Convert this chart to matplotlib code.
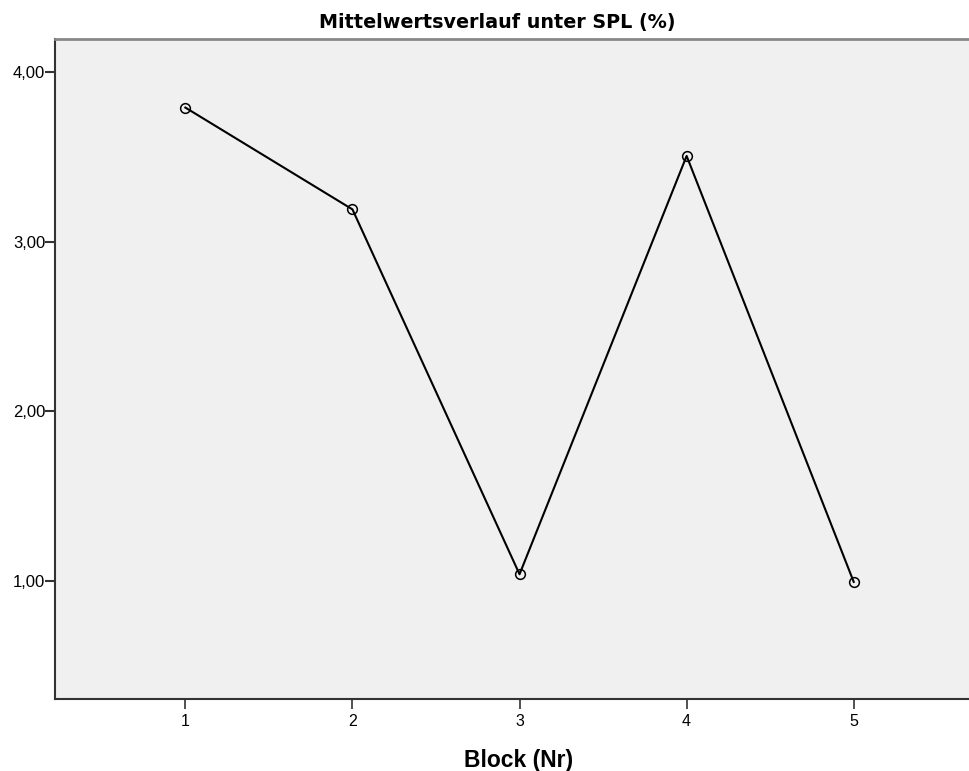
import numpy as np
import matplotlib.pyplot as plt

blocks = [1, 2, 3, 4, 5]
means = [3.79, 3.19, 1.04, 3.505, 0.995]
ytick_vals = [1.0, 2.0, 3.0, 4.0]
ytick_labels = ['1,00', '2,00', '3,00', '4,00']

plt.rcParams['font.family'] = ['Liberation Sans', 'DejaVu Sans']

fig = plt.figure(figsize=(9.69, 7.71), dpi=100)
ax = fig.add_axes([0.0568, 0.0934, 0.9432, 0.856])
ax.set_facecolor('#f0f0f0')

ax.plot(blocks, means, color='black', linewidth=1.5, marker='o', markersize=7,
        markerfacecolor='none', markeredgecolor='black', markeredgewidth=1.1)

ax.set_xlim(0.22, 5.69)
ax.set_ylim(0.305, 4.194)
ax.set_xticks(blocks)
ax.set_yticks(ytick_vals)
ax.set_yticklabels(ytick_labels)

ax.spines['right'].set_visible(False)
ax.spines['top'].set_color('#888888')
ax.spines['top'].set_linewidth(2)
ax.spines['left'].set_color('#333333')
ax.spines['bottom'].set_color('#333333')
ax.spines['left'].set_linewidth(1.5)
ax.spines['bottom'].set_linewidth(1.5)

ax.tick_params(axis='y', length=7, width=1.5, labelsize=12, pad=0, color='#333333')
ax.tick_params(axis='x', length=7, width=1.2, labelsize=11.5, pad=4, color='#333333')

ax.set_xlabel('Block (Nr)', fontsize=16.5, fontweight='bold', labelpad=14, x=0.507)
ax.set_title('Mittelwertsverlauf unter SPL (%)', fontsize=13.8, fontweight='bold',
             family='DejaVu Sans', pad=8, x=0.484)

fig.savefig('out.png', dpi=100)
